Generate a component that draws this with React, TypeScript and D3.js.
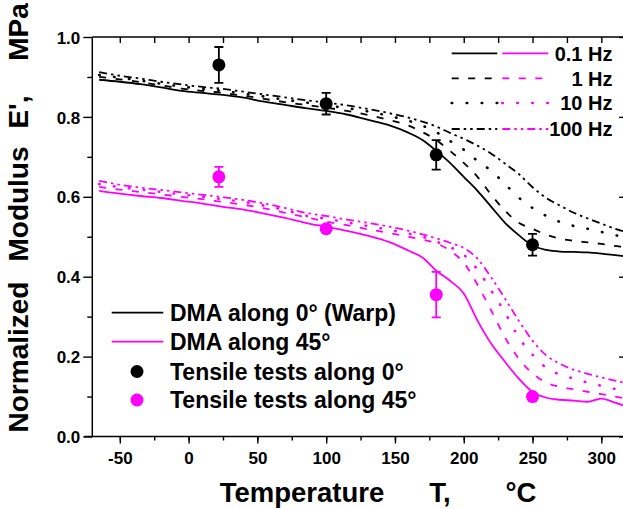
import React, { useEffect, useRef } from 'react';
import * as d3 from 'd3';

// Temperature grid (°C) shared by all DMA curves
const temps = [-65, -50, -35, -20, -5, 10, 25, 40, 55, 70, 85, 100, 115, 130, 145, 160, 170, 180, 190, 200, 210, 220, 230, 240, 250, 260, 270, 280, 290, 300, 310, 320];

// DMA along 0° (warp)
const warp01Hz = [0.893, 0.888, 0.882, 0.874, 0.865, 0.860, 0.855, 0.848, 0.838, 0.830, 0.822, 0.815, 0.806, 0.793, 0.780, 0.760, 0.742, 0.715, 0.685, 0.650, 0.615, 0.575, 0.535, 0.504, 0.478, 0.467, 0.463, 0.462, 0.461, 0.458, 0.454, 0.450];
const warp1Hz = [0.900, 0.894, 0.887, 0.879, 0.871, 0.865, 0.860, 0.853, 0.845, 0.837, 0.830, 0.823, 0.815, 0.805, 0.793, 0.778, 0.762, 0.742, 0.715, 0.685, 0.650, 0.605, 0.565, 0.535, 0.520, 0.505, 0.495, 0.490, 0.486, 0.482, 0.477, 0.472];
const warp10Hz = [0.905, 0.898, 0.891, 0.883, 0.876, 0.870, 0.865, 0.858, 0.851, 0.843, 0.836, 0.829, 0.822, 0.814, 0.803, 0.790, 0.778, 0.762, 0.740, 0.718, 0.690, 0.665, 0.632, 0.598, 0.572, 0.552, 0.537, 0.527, 0.520, 0.512, 0.504, 0.498];
const warp100Hz = [0.912, 0.903, 0.896, 0.888, 0.881, 0.875, 0.870, 0.863, 0.856, 0.849, 0.842, 0.836, 0.829, 0.820, 0.810, 0.798, 0.788, 0.776, 0.760, 0.745, 0.728, 0.708, 0.683, 0.657, 0.624, 0.597, 0.578, 0.560, 0.546, 0.533, 0.520, 0.510];

// DMA along 45°
const bias01Hz = [0.615, 0.608, 0.602, 0.597, 0.590, 0.583, 0.575, 0.568, 0.558, 0.547, 0.535, 0.525, 0.515, 0.503, 0.488, 0.465, 0.448, 0.415, 0.390, 0.358, 0.290, 0.232, 0.187, 0.145, 0.112, 0.097, 0.092, 0.090, 0.087, 0.095, 0.085, 0.073];
const bias1Hz = [0.625, 0.618, 0.612, 0.606, 0.600, 0.594, 0.587, 0.580, 0.571, 0.560, 0.549, 0.538, 0.529, 0.519, 0.510, 0.500, 0.493, 0.484, 0.465, 0.435, 0.380, 0.315, 0.248, 0.195, 0.158, 0.135, 0.124, 0.118, 0.112, 0.106, 0.100, 0.093];
const bias10Hz = [0.632, 0.624, 0.618, 0.612, 0.606, 0.600, 0.594, 0.587, 0.578, 0.567, 0.553, 0.545, 0.536, 0.527, 0.518, 0.508, 0.500, 0.488, 0.474, 0.455, 0.418, 0.365, 0.310, 0.248, 0.205, 0.172, 0.155, 0.145, 0.135, 0.127, 0.119, 0.113];
const bias100Hz = [0.640, 0.630, 0.623, 0.617, 0.611, 0.605, 0.599, 0.592, 0.583, 0.572, 0.560, 0.552, 0.543, 0.535, 0.526, 0.515, 0.506, 0.496, 0.485, 0.472, 0.445, 0.398, 0.345, 0.290, 0.240, 0.203, 0.182, 0.167, 0.157, 0.148, 0.140, 0.132];

// Tensile tests
const tensileT = [22, 100, 180, 250];
const tensile0 = [0.93, 0.833, 0.705, 0.48];
const tensile0Err = [0.045, 0.027, 0.037, 0.027];
const tensile45 = [0.65, 0.52, 0.355, 0.10];
const tensile45Err = [0.025, 0.008, 0.057, 0.0];

const xTicks = [-50, 0, 50, 100, 150, 200, 250, 300];
const xMinorTicks = [-50, -25, 0, 25, 50, 75, 100, 125, 150, 175, 200, 225, 250, 275, 300];
const yTicks = [0, 0.2, 0.4, 0.6, 0.8, 1.0];
const yMinorTicks = [0.1, 0.3, 0.5, 0.7, 0.9];

const freqLabels = ['0.1 Hz', '1 Hz', '10 Hz', '100 Hz'];
const legendLabels = ['DMA along 0° (Warp)', 'DMA along 45°', 'Tensile tests along 0°', 'Tensile tests along 45°'];

const BLACK = '#000000';
const MAGENTA = '#ff00ff';
const dashes = [null, '7,9.5', 'dot', '8,4,2.5,4,2.5,4'];
const FONT = '"Liberation Sans", Arial, sans-serif';

const W = 623;
const H = 509;

export default function App() {
  const ref = useRef<SVGSVGElement | null>(null);

  useEffect(() => {
    const svg = d3.select(ref.current);
    svg.selectAll('*').remove();

    const x = d3.scaleLinear().domain([-70, 318]).range([92.3, 92.3 + 388 * 1.3757]);
    const y = d3.scaleLinear().domain([0, 1]).range([436.5, 37]);
    const [x0, x1] = x.range();
    const [yb, yt] = y.range();

    svg.append('rect').attr('width', W).attr('height', H).attr('fill', '#fff');

    const defs = svg.append('defs');
    defs.append('clipPath').attr('id', 'plotclip')
      .append('rect').attr('x', x0).attr('y', yt).attr('width', x1 - x0).attr('height', yb - yt);

    const plot = svg.append('g').attr('clip-path', 'url(#plotclip)');

    const line = d3.line<number>()
      .x((_, i) => x(temps[i]))
      .y((d) => y(d))
      .curve(d3.curveMonotoneX);

    const applyDash = (sel: any, dash: string | null) => {
      if (dash === 'dot') {
        sel.attr('stroke-width', 2.6).attr('stroke-dasharray', '0.5,14.5').attr('stroke-linecap', 'round');
      } else if (dash) {
        sel.attr('stroke-dasharray', dash);
      }
    };

    const warp = [warp01Hz, warp1Hz, warp10Hz, warp100Hz];
    const bias = [bias01Hz, bias1Hz, bias10Hz, bias100Hz];
    const drawSeries = (data: number[], color: string, dash: string | null) => {
      const p = plot.append('path').attr('d', line(data) as string)
        .attr('fill', 'none').attr('stroke', color).attr('stroke-width', 1.8);
      applyDash(p, dash);
    };
    bias.forEach((s, i) => drawSeries(s, MAGENTA, dashes[i]));
    warp.forEach((s, i) => drawSeries(s, BLACK, dashes[i]));

    // Tensile points with error bars
    const drawPoints = (vals: number[], errs: number[], color: string) => {
      vals.forEach((v, i) => {
        const cx = x(tensileT[i]);
        if (errs[i] > 0.012) {
          const ya = y(v + errs[i]);
          const yb2 = y(v - errs[i]);
          plot.append('line').attr('x1', cx).attr('x2', cx).attr('y1', ya).attr('y2', yb2)
            .attr('stroke', color).attr('stroke-width', 1.8);
          [ya, yb2].forEach((yy) => plot.append('line').attr('x1', cx - 4.5).attr('x2', cx + 4.5)
            .attr('y1', yy).attr('y2', yy).attr('stroke', color).attr('stroke-width', 1.8));
        }
        plot.append('circle').attr('cx', cx).attr('cy', y(v)).attr('r', 6.5).attr('fill', color);
      });
    };
    drawPoints(tensile0, tensile0Err, BLACK);
    drawPoints(tensile45, tensile45Err, MAGENTA);

    // Axes
    const styleAxis = (g: any) => {
      g.select('.domain').remove();
      g.selectAll('line').attr('stroke', '#000').attr('stroke-width', 1.4);
      g.selectAll('text').attr('font-family', FONT).attr('font-weight', 'bold').attr('font-size', 17).attr('fill', '#000');
    };

    // bottom
    const gbMinor = svg.append('g').attr('transform', `translate(0,${yb})`)
      .call(d3.axisBottom(x).tickValues(xMinorTicks).tickSize(4).tickFormat(() => ''));
    styleAxis(gbMinor);
    const gb = svg.append('g').attr('transform', `translate(0,${yb})`)
      .call(d3.axisBottom(x).tickValues(xTicks).tickSize(7).tickPadding(8).tickFormat(d3.format('d')));
    styleAxis(gb);
    gb.selectAll('text').text((d: any) => String(d));

    // top (inward)
    const gt = svg.append('g').attr('transform', `translate(0,${yt})`)
      .call(d3.axisBottom(x).tickValues(xMinorTicks).tickSize(6).tickFormat(() => ''));
    styleAxis(gt);

    // left
    const glMinor = svg.append('g').attr('transform', `translate(${x0},0)`)
      .call(d3.axisLeft(y).tickValues(yMinorTicks).tickSize(5).tickFormat(() => ''));
    styleAxis(glMinor);
    const gl = svg.append('g').attr('transform', `translate(${x0},0)`)
      .call(d3.axisLeft(y).tickValues(yTicks).tickSize(9).tickPadding(3).tickFormat(d3.format('.1f')));
    styleAxis(gl);
    gl.selectAll('text').attr('dy', '0.36em');

    // right (inward)
    const gr = svg.append('g').attr('transform', `translate(${x1},0)`)
      .call(d3.axisLeft(y).tickValues(yTicks).tickSize(7).tickFormat(() => ''));
    styleAxis(gr);

    // frame lines
    const frame = svg.append('g').attr('stroke', '#000').attr('stroke-width', 1.5);
    frame.append('line').attr('x1', x0).attr('x2', x0).attr('y1', yt).attr('y2', yb);
    frame.append('line').attr('x1', x0 - 8).attr('x2', x1).attr('y1', yb).attr('y2', yb);
    frame.append('line').attr('x1', x0).attr('x2', x1).attr('y1', yt).attr('y2', yt);
    frame.append('line').attr('x1', x1).attr('x2', x1).attr('y1', yt).attr('y2', yb);

    // Axis titles
    const title = (t: string, tx: number, ty: number, rot: boolean, size: number) => {
      svg.append('text').text(t)
        .attr('transform', rot ? `translate(${tx},${ty}) rotate(-90)` : `translate(${tx},${ty})`)
        .attr('text-anchor', 'middle').attr('font-family', FONT).attr('font-weight', 'bold')
        .attr('font-size', size).attr('fill', '#000');
    };
    title('Temperature', 302, 502, false, 27.5);
    title('T,', 440, 502, false, 27.5);
    title('°C', 521, 502, false, 27.5);
    title('Normalized', 28, 357, true, 28);
    title('Modulus', 28, 204, true, 28);
    title("E',", 28, 112, true, 28);
    title('MPa', 28, 32, true, 28);

    // Frequency legend (top right)
    const fl = svg.append('g');
    freqLabels.forEach((lab, i) => {
      const yy = [53.3, 78.3, 103, 129][i];
      const segs: [number, number, string][] = [[451.7, 497.3, BLACK], [502.3, 548.3, MAGENTA]];
      segs.forEach(([a, b, c]) => {
        const ln = fl.append('line').attr('x1', a).attr('x2', b).attr('y1', yy).attr('y2', yy)
          .attr('stroke', c).attr('stroke-width', 1.8);
        applyDash(ln, dashes[i]);
      });
      fl.append('text').text(lab).attr('x', 612.5).attr('y', yy).attr('dy', '0.36em')
        .attr('text-anchor', 'end').attr('font-family', FONT).attr('font-weight', 'bold')
        .attr('font-size', 20).attr('fill', '#000');
    });

    // Main legend (bottom left)
    const ml = svg.append('g');
    const rows = [312.7, 341.7, 371.5, 400];
    legendLabels.forEach((lab, i) => {
      const yy = rows[i];
      const color = i % 2 === 0 ? BLACK : MAGENTA;
      if (i < 2) {
        ml.append('line').attr('x1', 111.7).attr('x2', 163.3).attr('y1', yy).attr('y2', yy)
          .attr('stroke', color).attr('stroke-width', 1.8);
      } else {
        ml.append('circle').attr('cx', 137).attr('cy', yy).attr('r', 6.5).attr('fill', color);
      }
      ml.append('text').text(lab).attr('x', 170).attr('y', yy).attr('dy', '0.36em')
        .attr('font-family', FONT).attr('font-weight', 'bold').attr('font-size', 23).attr('fill', '#000');
    });
  }, []);

  return (
    <svg ref={ref} width={W} height={H} style={{ position: 'absolute', left: 0, top: 0, display: 'block' }} />
  );
}
